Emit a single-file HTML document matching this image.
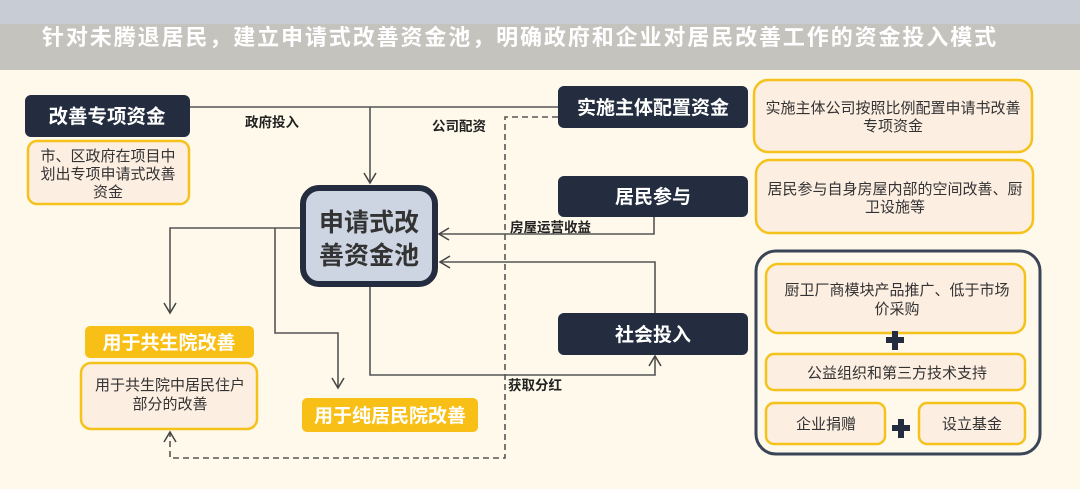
<!DOCTYPE html>
<html><head><meta charset="utf-8"><style>
body{margin:0;width:1080px;height:489px;overflow:hidden;background:#fef9ea;font-family:"Liberation Sans","Noto Sans CJK SC",sans-serif}
</style></head><body>
<svg width="1080" height="489" viewBox="0 0 1080 489" xmlns="http://www.w3.org/2000/svg" style="position:absolute;left:0;top:0">
<defs>
<marker id="a" markerWidth="14" markerHeight="14" refX="12" refY="7" orient="auto" markerUnits="userSpaceOnUse"><path d="M2,1 L12,7 L2,13" fill="none" stroke="#444" stroke-width="1.5"/></marker>
</defs>
<rect x="0" y="0" width="1080" height="489" fill="#fef9ea"/>
<rect x="0" y="0" width="1080" height="24" fill="#c8ccd4"/>
<rect x="0" y="24" width="1080" height="46" fill="#c5c3be"/>
<text x="42" y="45" font-size="22" font-weight="bold" fill="#fff" letter-spacing="1.9">针对未腾退居民，建立申请式改善资金池，明确政府和企业对居民改善工作的资金投入模式</text>
<g fill="none" stroke="#555" stroke-width="1.6">
<path d="M190,107 H558"/>
<path d="M370,107 V183" marker-end="url(#a)"/>
<path d="M300,228 H170 V313" marker-end="url(#a)"/>
<path d="M275,228 V333 H338 V388" marker-end="url(#a)"/>
<path d="M370,280 V375 H655 V356" marker-end="url(#a)"/>
<path d="M654,217 V234 H439" marker-end="url(#a)"/>
<path d="M655,313 V262 H440" marker-end="url(#a)"/>
<path d="M558,117 H505 V458 H170 V432" stroke-dasharray="6,4" marker-end="url(#a)"/>
</g>
<g font-size="13.5" font-weight="bold" fill="#222">
<text x="245" y="127">政府投入</text>
<text x="432" y="131">公司配资</text>
<text x="510" y="232">房屋运营收益</text>
<text x="508" y="390">获取分红</text>
</g>
<rect x="25" y="95" width="165" height="42" rx="6" fill="#232d3f"/>
<text x="107" y="123" font-size="19.5" font-weight="bold" fill="#fff" text-anchor="middle">改善专项资金</text>
<rect x="28" y="141" width="161" height="63" rx="9" fill="#fdeee2" stroke="#f5c21c" stroke-width="2.5"/>
<g font-size="15" fill="#333" text-anchor="middle"><text x="108" y="161">市、区政府在项目中</text><text x="108" y="179">划出专项申请式改善</text><text x="108" y="197">资金</text></g>
<rect x="303" y="188" width="132" height="96" rx="16" fill="#cdd5e3" stroke="#232d3f" stroke-width="6"/>
<text x="369" y="231" font-size="25" font-weight="bold" fill="#333" text-anchor="middle">申请式改</text>
<text x="369" y="264" font-size="25" font-weight="bold" fill="#333" text-anchor="middle">善资金池</text>
<rect x="85" y="326" width="169" height="32" rx="5" fill="#f8bf16"/>
<text x="169" y="349" font-size="19" font-weight="bold" fill="#fff" text-anchor="middle">用于共生院改善</text>
<rect x="81" y="363" width="176" height="66" rx="10" fill="#fdeee2" stroke="#f5c21c" stroke-width="2.5"/>
<g font-size="15" fill="#333" text-anchor="middle"><text x="170" y="390">用于共生院中居民住户</text><text x="170" y="409">部分的改善</text></g>
<rect x="302" y="398" width="176" height="34" rx="5" fill="#f8bf16"/>
<text x="390" y="422" font-size="19" font-weight="bold" fill="#fff" text-anchor="middle">用于纯居民院改善</text>
<g fill="#232d3f"><rect x="558" y="86" width="190" height="42" rx="6"/><rect x="558" y="176" width="190" height="41" rx="6"/><rect x="558" y="313" width="190" height="42" rx="6"/></g>
<g font-size="19" font-weight="bold" fill="#fff" text-anchor="middle"><text x="653" y="114">实施主体配置资金</text><text x="653" y="203">居民参与</text><text x="653" y="341">社会投入</text></g>
<g fill="#fdeee2" stroke="#f5c21c" stroke-width="2.5">
<rect x="754" y="80" width="278" height="72" rx="14"/>
<rect x="756" y="160" width="277" height="73" rx="14"/>
</g>
<rect x="756" y="251" width="284" height="203" rx="20" fill="none" stroke="#3a4558" stroke-width="3"/>
<g fill="#fdeee2" stroke="#f5c21c" stroke-width="2.5">
<rect x="766" y="264" width="259" height="69" rx="12"/>
<rect x="766" y="354" width="259" height="36" rx="8"/>
<rect x="766" y="403" width="119" height="41" rx="8"/>
<rect x="919" y="403" width="106" height="41" rx="8"/>
</g>
<g font-size="15" fill="#333" text-anchor="middle">
<text x="893" y="113">实施主体公司按照比例配置申请书改善</text><text x="893" y="131">专项资金</text>
<text x="895" y="194">居民参与自身房屋内部的空间改善、厨</text><text x="895" y="212">卫设施等</text>
<text x="897" y="295">厨卫厂商模块产品推广、低于市场</text><text x="897" y="314">价采购</text>
<text x="897" y="378">公益组织和第三方技术支持</text>
<text x="826" y="429">企业捐赠</text>
<text x="972" y="429">设立基金</text>
</g>
<g fill="#232d3f"><rect x="886" y="337" width="18" height="6"/><rect x="892" y="331" width="6" height="19"/>
<rect x="892" y="425" width="18" height="6"/><rect x="898" y="419" width="6" height="19"/></g>
</svg>
</body></html>
